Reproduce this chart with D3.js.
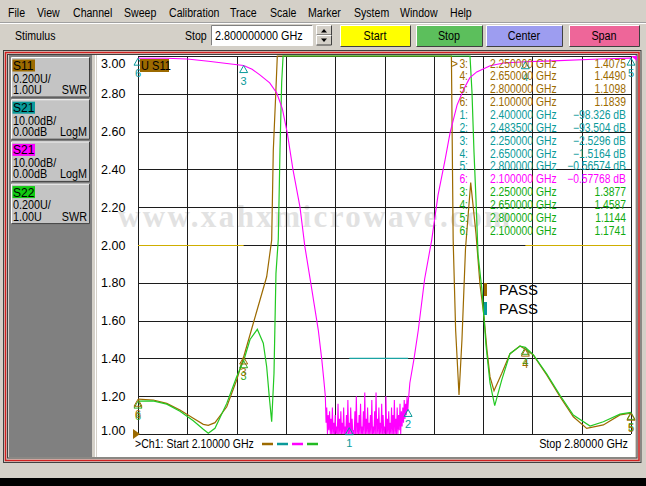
<!DOCTYPE html>
<html>
<head>
<meta charset="utf-8">
<script src="https://cdn.jsdelivr.net/npm/d3@7"></script>
<style>
body { margin: 0; background: #d4d0c8; }
svg { display: block; font-family: "Liberation Sans", Arial, sans-serif; }
</style>
</head>
<body>
<svg id="vna"></svg>
<script>
// sweep settings
var startGHz = 2.1, stopGHz = 2.8;
var freqGrid = [2.10, 2.17, 2.24, 2.31, 2.38, 2.45, 2.52, 2.59, 2.66, 2.73, 2.80];
var swrTicks = [1.0, 1.2, 1.4, 1.6, 1.8, 2.0, 2.2, 2.4, 2.6, 2.8, 3.0];

// S11 (SWR)
var s11Freq = [2.100, 2.1217, 2.1408, 2.1596, 2.1785, 2.1927, 2.1998, 2.2093, 2.2260, 2.2401, 2.2500,
  2.2637, 2.2732, 2.2827, 2.2898, 2.2921, 2.2956, 2.2978, 2.3200, 2.4200, 2.5200, 2.5450,
  2.5475, 2.5510, 2.5558, 2.5600, 2.5650, 2.5724, 2.5799, 2.5856, 2.5913, 2.5955, 2.5998,
  2.6055, 2.6164, 2.6282, 2.6424, 2.6500, 2.6612, 2.6803, 2.6992, 2.7181, 2.7371, 2.7607, 2.7844, 2.8000];
var s11Swr = [1.184, 1.180, 1.162, 1.127, 1.083, 1.051, 1.046, 1.060, 1.144, 1.286, 1.4075,
  1.586, 1.709, 1.832, 2.026, 2.500, 2.800, 3.050, 4.000, 5.000, 4.200, 3.050,
  2.026, 1.550, 1.206, 1.500, 1.980, 2.330, 2.060, 1.790, 1.620, 1.444, 1.302,
  1.229, 1.320, 1.425, 1.466, 1.449, 1.418, 1.312, 1.197, 1.091, 1.030, 1.048, 1.101, 1.1098];

// S22 (SWR)
var s22Freq = [2.100, 2.1213, 2.1408, 2.1596, 2.1785, 2.1927, 2.1998, 2.2093, 2.2260, 2.2401, 2.2500,
  2.2591, 2.2694, 2.2779, 2.2827, 2.2864, 2.2898, 2.2931, 2.2959, 2.2992, 2.3016, 2.3040, 2.3060,
  2.3500, 2.4500, 2.5500, 2.5714, 2.5742, 2.5771, 2.5799, 2.5828, 2.5884, 2.5941, 2.5998,
  2.6065, 2.6164, 2.6282, 2.6424, 2.6500, 2.6612, 2.6803, 2.6992, 2.7181, 2.7419, 2.7607, 2.7844, 2.8000];
var s22Swr = [1.1741, 1.175, 1.158, 1.120, 1.070, 1.025, 1.004, 1.030, 1.162, 1.303, 1.3877,
  1.500, 1.554, 1.480, 1.356, 1.197, 1.065, 1.321, 1.850, 2.030, 2.500, 2.860, 3.050,
  4.000, 5.000, 4.000, 3.050, 2.810, 2.490, 2.240, 1.950, 1.760, 1.470, 1.270,
  1.150, 1.285, 1.425, 1.465, 1.4587, 1.420, 1.318, 1.205, 1.100, 1.042, 1.065, 1.105, 1.1144];

// S21 (dB): lower skirt, noise floor, upper skirt
var s21LowFreq = [2.100, 2.140, 2.170, 2.200, 2.235, 2.250, 2.262, 2.273, 2.287, 2.297, 2.305,
  2.312, 2.320, 2.330, 2.337, 2.347, 2.356, 2.361, 2.364];
var s21LowDb = [-0.58, -0.6, -0.8, -1.4, -2.2, -2.53, -3.5, -5.0, -7.1, -9.8, -14,
  -20.4, -30, -40, -50.5, -62, -72.5, -80.4, -86];
var noiseStartGHz = 2.366, noiseStepGHz = 0.001;
var s21NoiseDb = [
  -90, -97, -93, -101, -95, -99, -94, -102, -96, -100,
  -93, -101, -97, -100, -95, -103, -98, -100, -92, -101,
  -96, -102, -94, -100, -97, -101, -93, -104, -98, -100,
  -95, -101, -91, -102, -97, -100, -93, -103, -96, -101,
  -99, -100, -94, -102, -90, -101, -97, -100, -95, -103,
  -92, -100, -98, -101, -94, -102, -89, -100, -96, -101,
  -93, -103, -97, -100, -95, -101, -91, -102, -98, -100,
  -94, -101, -89, -100, -96, -102, -93, -101, -97, -100,
  -92, -103, -95, -100, -98, -101, -90, -102, -96, -100,
  -94, -101, -97, -100, -93, -102, -95, -100, -91, -101,
  -96, -100, -93, -101, -95, -99, -92, -100, -94, -98,
  -93, -97, -91, -96, -92, -95, -90, -94, -91];
var s21HighFreq = [2.486, 2.492, 2.498, 2.507, 2.517, 2.526, 2.536, 2.543, 2.553, 2.562,
  2.571, 2.581, 2.600, 2.619, 2.650, 2.689, 2.756, 2.800];
var s21HighDb = [-86.5, -80, -72.5, -59, -48.7, -36.8, -27.5, -20.4, -13, -9,
  -5.8, -4.2, -2.6, -1.85, -1.52, -1.3, -0.8, -0.566];

// markers
var s11MarkerNum = [3, 4, 5, 6];
var s11MarkerFreq = [2.25, 2.65, 2.8, 2.1];
var s11MarkerSwr = [1.4075, 1.4490, 1.1098, 1.1839];
var s21MarkerNum = [1, 2, 3, 4, 5, 6];
var s21MarkerFreq = [2.4, 2.4835, 2.25, 2.65, 2.8, 2.1];
var s21MarkerDb = [-98.326, -93.504, -2.5296, -1.5164, -0.56574, -0.57768];
var s22MarkerNum = [3, 4, 5, 6];
var s22MarkerFreq = [2.25, 2.65, 2.8, 2.1];
var s22MarkerSwr = [1.3877, 1.4587, 1.1144, 1.1741];

// limit lines
var s11LimitSegs = [[2.10, 2.25], [2.65, 2.80]];
var s11LimitSwr = 2.0;
var s21LimitSeg = [2.4, 2.4835];
var s21LimitDb = -80;

// channel panel
var chanNames = ['S11', 'S21', 'S21', 'S22'];
var chanScale = ['0.200U/', '10.00dB/', '10.00dB/', '0.200U/'];
var chanRef = ['1.00U', '0.00dB', '0.00dB', '1.00U'];
var chanFormat = ['SWR', 'LogM', 'LogM', 'SWR'];

var menuItems = ['File', 'View', 'Channel', 'Sweep', 'Calibration', 'Trace', 'Scale', 'Marker', 'System', 'Window', 'Help'];
var menuX = [8, 37, 73, 124, 169, 230, 270, 308, 354, 400, 450];

var brown = '#9c6a00', teal = '#0a9a9a', magenta = '#ff00ff', green = '#22c922', greenText = '#10aa10';
var chanColors = [brown, teal, magenta, '#11cc11'];

var W = 646, H = 486;
var svg = d3.select('#vna').attr('width', W).attr('height', H);

svg.append('rect').attr('width', W).attr('height', H).attr('fill', '#d4d0c8');
svg.append('rect').attr('y', 478).attr('width', W).attr('height', 8).attr('fill', '#000');

// the analyser's bitmap font is narrower than Arial
function squeeze(t, k) {
  var len = t.node().getComputedTextLength();
  t.attr('textLength', len * k).attr('lengthAdjust', 'spacingAndGlyphs');
  return t;
}

// raised / sunken box
function bevel(x, y, w, h, fill, sunken) {
  var hi = sunken ? '#808080' : '#ffffff', lo = sunken ? '#ffffff' : '#404040';
  svg.append('rect').attr('x', x).attr('y', y).attr('width', w).attr('height', h).attr('fill', fill);
  svg.append('path').attr('d', 'M' + x + ',' + (y + h) + 'V' + y + 'H' + (x + w))
    .attr('stroke', hi).attr('fill', 'none');
  svg.append('path').attr('d', 'M' + x + ',' + (y + h) + 'H' + (x + w) + 'V' + y)
    .attr('stroke', lo).attr('fill', 'none');
}

// menu bar
menuItems.forEach(function(m, i) {
  squeeze(svg.append('text').attr('x', menuX[i]).attr('y', 17).attr('font-size', 12).text(m), 0.88);
});
svg.append('line').attr('x1', 0).attr('x2', W).attr('y1', 22.5).attr('y2', 22.5).attr('stroke', '#a0a0a0');
svg.append('line').attr('x1', 0).attr('x2', W).attr('y1', 23.5).attr('y2', 23.5).attr('stroke', '#fff');

// toolbar
squeeze(svg.append('text').attr('x', 15).attr('y', 40).attr('font-size', 12).text('Stimulus'), 0.88);
squeeze(svg.append('text').attr('x', 185).attr('y', 40).attr('font-size', 12).text('Stop'), 0.88);
bevel(211.5, 25.5, 101, 20, '#fff', true);
squeeze(svg.append('text').attr('x', 215).attr('y', 40).attr('font-size', 12).text('2.800000000 GHz'), 0.9);
bevel(316.5, 25.5, 15, 9.5, '#d4d0c8', false);
bevel(316.5, 35.5, 15, 9.5, '#d4d0c8', false);
svg.append('path').attr('d', 'M321,32.5L324,29L327,32.5Z').attr('fill', '#000');
svg.append('path').attr('d', 'M321,38.5L324,42L327,38.5Z').attr('fill', '#000');

var btnLabels = ['Start', 'Stop', 'Center', 'Span'];
var btnX = [340, 416, 486, 569], btnW = [70, 66, 76, 70];
var btnFill = ['#ffff00', '#5cbf5c', '#9d9df0', '#ee6699'];
btnLabels.forEach(function(b, i) {
  bevel(btnX[i] + 0.5, 25.5, btnW[i], 21, btnFill[i], false);
  squeeze(svg.append('text').attr('x', btnX[i] + btnW[i] / 2).attr('y', 40).attr('text-anchor', 'middle')
    .attr('font-size', 12).text(b), 0.9);
});

// window frame
svg.append('rect').attr('x', 3.5).attr('y', 50.5).attr('width', 637.5).attr('height', 412).attr('fill', 'none').attr('stroke', '#404040');
svg.append('rect').attr('x', 5.5).attr('y', 52.5).attr('width', 633.5).attr('height', 408).attr('fill', 'none').attr('stroke', '#d02020').attr('stroke-width', 1.5);
svg.append('rect').attr('x', 7.5).attr('y', 54.5).attr('width', 629.5).attr('height', 403.5).attr('fill', '#d4d0c8').attr('stroke', '#404040');
svg.append('rect').attr('x', 9).attr('y', 55).attr('width', 83).attr('height', 402).attr('fill', '#808080');
svg.append('rect').attr('x', 97).attr('y', 55).attr('width', 538).attr('height', 402).attr('fill', '#fff');
svg.append('line').attr('x1', 95.5).attr('x2', 95.5).attr('y1', 55).attr('y2', 457).attr('stroke', '#fff');

// channel blocks
chanNames.forEach(function(name, i) {
  var y0 = 57 + i * 42.2;
  bevel(11.5, y0 + 0.5, 78, 39.5, '#c4c4c4', false);
  svg.append('rect').attr('x', 12.5).attr('y', y0 + 2.5).attr('width', 22.5).attr('height', 12).attr('fill', chanColors[i]);
  svg.append('text').attr('x', 13).attr('y', y0 + 13).attr('font-size', 12).text(name);
  squeeze(svg.append('text').attr('x', 13).attr('y', y0 + 25.5).attr('font-size', 12).text(chanScale[i]), 0.9);
  squeeze(svg.append('text').attr('x', 13).attr('y', y0 + 37).attr('font-size', 12).text(chanRef[i]), 0.9);
  squeeze(svg.append('text').attr('x', 87).attr('y', 37 + y0).attr('text-anchor', 'end').attr('font-size', 12).text(chanFormat[i]), 0.9);
});

// scales
var x = d3.scaleLinear().domain([startGHz, stopGHz]).range([138, 631]);
var ySwr = d3.scaleLinear().domain([1, 3]).range([434, 56]).clamp(true);
var yDb = d3.scaleLinear().domain([-100, 0]).range([434, 56]).clamp(true);

// watermark
svg.append('text').attr('x', 118).attr('y', 227)
  .attr('font-family', '"Liberation Serif", "Times New Roman", serif').attr('font-weight', 'bold')
  .attr('font-size', 31).attr('fill', '#d0d0d0').attr('opacity', 0.6)
  .attr('textLength', 392).text('www.xahxmicrowave.com');

// grid
var grid = svg.append('g').attr('stroke', '#1c1c1c').attr('shape-rendering', 'crispEdges');
grid.selectAll('.vx').data(freqGrid).enter().append('line')
  .attr('x1', function(d) { return Math.round(x(d)) + 0.5; })
  .attr('x2', function(d) { return Math.round(x(d)) + 0.5; })
  .attr('y1', 56).attr('y2', 434);
grid.selectAll('.hy').data(swrTicks).enter().append('line')
  .attr('y1', function(d) { return Math.round(ySwr(d)) + 0.5; })
  .attr('y2', function(d) { return Math.round(ySwr(d)) + 0.5; })
  .attr('x1', 138).attr('x2', 631);

// y labels (top and bottom pulled inside)
svg.selectAll('.ylab').data(swrTicks).enter().append('text')
  .attr('x', 101)
  .attr('y', function(d) { return Math.min(Math.max(ySwr(d), 63), 430) + 4.5; })
  .attr('font-size', 12.5).attr('fill', '#000')
  .text(function(d) { return d3.format('.2f')(d); });

// limit lines
s11LimitSegs.forEach(function(s) {
  svg.append('line').attr('x1', x(s[0])).attr('x2', x(s[1]))
    .attr('y1', ySwr(s11LimitSwr) + 0.5).attr('y2', ySwr(s11LimitSwr) + 0.5)
    .attr('stroke', '#cfae00').attr('stroke-width', 1.2);
});
svg.append('line').attr('x1', x(s21LimitSeg[0])).attr('x2', x(s21LimitSeg[1]))
  .attr('y1', yDb(s21LimitDb)).attr('y2', yDb(s21LimitDb))
  .attr('stroke', '#1aa3a3').attr('stroke-width', 1.2);

// traces
var swrLine = d3.line().x(function(d) { return x(d[0]); }).y(function(d) { return ySwr(d[1]); });
var dbLine = d3.line().x(function(d) { return x(d[0]); }).y(function(d) { return yDb(d[1]); });

var s21Pts = d3.zip(s21LowFreq, s21LowDb)
  .concat(s21NoiseDb.map(function(v, i) { return [noiseStartGHz + i * noiseStepGHz, v]; }))
  .concat(d3.zip(s21HighFreq, s21HighDb));

svg.append('path').datum(d3.zip(s11Freq, s11Swr)).attr('d', swrLine)
  .attr('fill', 'none').attr('stroke', brown).attr('stroke-width', 1.2);
svg.append('path').datum(d3.zip(s22Freq, s22Swr)).attr('d', swrLine)
  .attr('fill', 'none').attr('stroke', green).attr('stroke-width', 1.2);
svg.append('path').datum(s21Pts).attr('d', dbLine)
  .attr('fill', 'none').attr('stroke', magenta).attr('stroke-width', 1.1);

// markers: outline triangle under the point, number below
function markers(nums, freqs, vals, yScale, color) {
  nums.forEach(function(n, i) {
    var mx = x(freqs[i]), my = yScale(vals[i]);
    svg.append('path').attr('d', 'M' + mx + ',' + my + 'L' + (mx - 4) + ',' + (my + 7) + 'L' + (mx + 4) + ',' + (my + 7) + 'Z')
      .attr('fill', 'none').attr('stroke', color);
    svg.append('text').attr('x', mx).attr('y', my + 19).attr('text-anchor', 'middle')
      .attr('font-size', 11).attr('fill', color).text(n);
  });
}
markers(s22MarkerNum, s22MarkerFreq, s22MarkerSwr, ySwr, '#33aa22');
markers(s11MarkerNum, s11MarkerFreq, s11MarkerSwr, ySwr, brown);
markers(s21MarkerNum, s21MarkerFreq, s21MarkerDb, yDb, teal);

// reference pointer and off-scale arrow
svg.append('path').attr('d', 'M133,' + (ySwr(1) - 5) + 'L140,' + ySwr(1) + 'L133,' + (ySwr(1) + 5) + 'Z').attr('fill', brown);
svg.append('path').attr('d', 'M631,56L637,56L637,61Z').attr('fill', magenta);

// active trace label
svg.append('rect').attr('x', 140).attr('y', 59).attr('width', 29).attr('height', 13).attr('fill', brown);
squeeze(svg.append('text').attr('x', 141).attr('y', 70).attr('font-size', 12).text('U S11'), 0.92);

// marker table
var fmtF = d3.format('.6f'), fmtV = d3.format('.5r');
var rows = [];
s11MarkerNum.forEach(function(n, i) { rows.push([n, s11MarkerFreq[i], fmtV(s11MarkerSwr[i]), brown]); });
s21MarkerNum.forEach(function(n, i) {
  rows.push([n, s21MarkerFreq[i], fmtV(s21MarkerDb[i]) + ' dB', n === 6 ? magenta : teal]);
});
s22MarkerNum.forEach(function(n, i) { rows.push([n, s22MarkerFreq[i], fmtV(s22MarkerSwr[i]), greenText]); });

var tbl = svg.append('g').attr('font-size', 12);
rows.forEach(function(r, i) {
  var ty = 63.3 + i * 12.85 + 4.3;
  squeeze(tbl.append('text').attr('x', 468).attr('y', ty).attr('text-anchor', 'end').attr('fill', r[3]).text(r[0] + ':'), 0.86);
  squeeze(tbl.append('text').attr('x', 490).attr('y', ty).attr('fill', r[3]).text(fmtF(r[1]) + ' GHz'), 0.86);
  squeeze(tbl.append('text').attr('x', 626).attr('y', ty).attr('text-anchor', 'end').attr('fill', r[3]).text(r[2]), 0.86);
});
tbl.append('text').attr('x', 451).attr('y', 67.6).attr('fill', brown).text('>');

// limit test results
var passColors = [brown, teal];
passColors.forEach(function(c, i) {
  svg.append('rect').attr('x', 484).attr('y', 283 + i * 19).attr('width', 3).attr('height', 13).attr('fill', c);
  svg.append('text').attr('x', 499).attr('y', 295 + i * 19).attr('font-size', 15).text('PASS');
});

// footer
squeeze(svg.append('text').attr('x', 135).attr('y', 448).attr('font-size', 12).text('>Ch1: Start  2.10000 GHz'), 0.88);
[brown, teal, magenta, '#22bb22'].forEach(function(c, i) {
  svg.append('line').attr('x1', 262 + i * 15).attr('x2', 273 + i * 15).attr('y1', 444).attr('y2', 444)
    .attr('stroke', c).attr('stroke-width', 2.5);
});
squeeze(svg.append('text').attr('x', 628).attr('y', 448).attr('text-anchor', 'end').attr('font-size', 12).text('Stop  2.80000 GHz'), 0.9);
</script>
</body>
</html>
